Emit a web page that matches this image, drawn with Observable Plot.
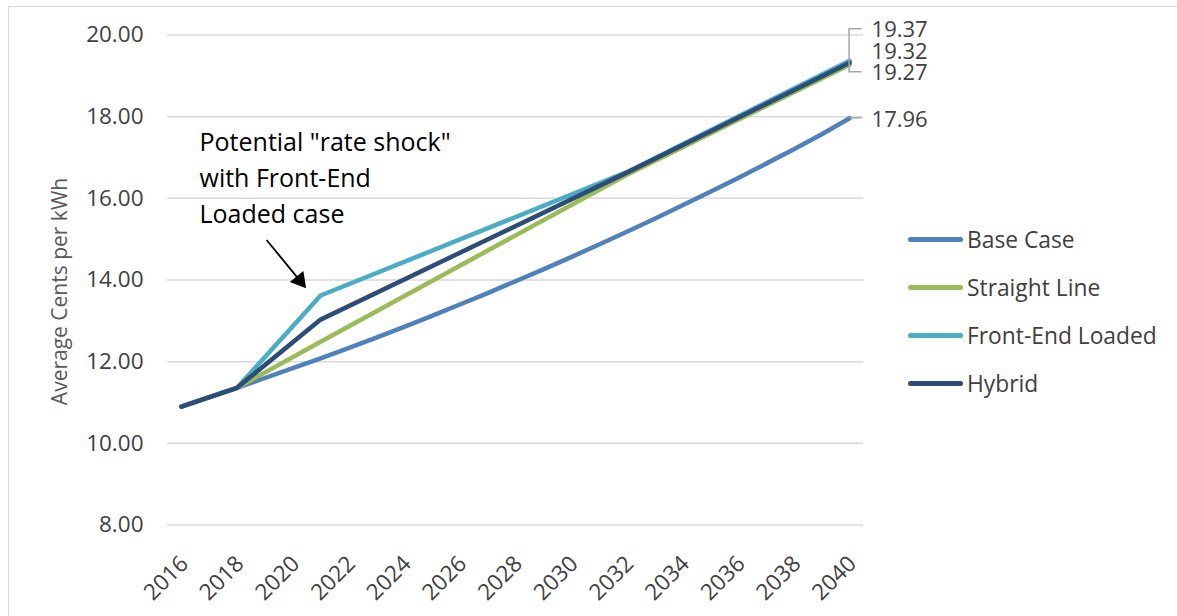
<!DOCTYPE html>
<html>
<head>
<meta charset="utf-8">
<script src="https://cdn.jsdelivr.net/npm/d3@7"></script>
<script src="https://cdn.jsdelivr.net/npm/@observablehq/plot@0.6"></script>
<style>
  html, body { margin: 0; padding: 0; background: #fff; overflow: hidden; }
  #wrap { position: relative; width: 1177px; height: 616px; font-family: "Open Sans", sans-serif; }
  #frame { position: absolute; left: 8px; top: 6px; width: 1300px; height: 800px; border: 1.5px solid #d9d9d9; box-sizing: border-box; pointer-events: none; }
  #legend { position: absolute; left: 908px; top: 216px; }
  .row { display: flex; align-items: center; height: 47.8px; }
  .sw { width: 55px; height: 5px; border-radius: 3px; margin-right: 4px; }
  .lab { font-size: 22.8px; color: #404040; white-space: nowrap; }
</style>
</head>
<body>
<div id="wrap"><div id="frame"></div><div id="legend"></div></div>
<script>
// ---- data ----
const seriesNames = ["Base Case", "Straight Line", "Front-End Loaded", "Hybrid"];
const seriesColors = ["#4f81bd", "#9bbb59", "#4bacc6", "#2c4d75"];

const baseYears = [2016, 2017, 2018, 2019, 2020, 2021, 2022, 2023, 2024, 2025, 2026, 2027, 2028,
                   2029, 2030, 2031, 2032, 2033, 2034, 2035, 2036, 2037, 2038, 2039, 2040];
const baseCase = [10.90, 11.13, 11.36, 11.60, 11.84, 12.08, 12.33, 12.59, 12.85, 13.12, 13.40, 13.68, 13.97,
                  14.26, 14.56, 14.87, 15.18, 15.50, 15.83, 16.16, 16.50, 16.85, 17.20, 17.57, 17.96];

const keyYears = [2016, 2018, 2021, 2032, 2040];
const straightLine   = [10.90, 11.36, 12.49, 16.58, 19.27];
const frontEndLoaded = [10.90, 11.36, 13.62, 16.64, 19.37];
const hybrid         = [10.90, 11.36, 13.03, 16.63, 19.32];

const xTicks = [2016, 2018, 2020, 2022, 2024, 2026, 2028, 2030, 2032, 2034, 2036, 2038, 2040];
const yTicks = [8, 10, 12, 14, 16, 18, 20];
const yTitle = "Average Cents per kWh";

const noteText = "Potential \"rate shock\"\nwith Front-End\nLoaded case";
const notePos = {x: 2016.65, y: 17.78};
const arrowFrom = {x: 2019.06, y: 14.98};
const arrowHead = {x: 2020.25, y: 13.99};

// ---- build table ----
const rows = [];
baseYears.forEach((yr, i) => rows.push({series: "Base Case", year: yr, value: baseCase[i]}));
const scen = {"Straight Line": straightLine, "Front-End Loaded": frontEndLoaded, "Hybrid": hybrid};
for (const name of ["Straight Line", "Front-End Loaded", "Hybrid"]) {
  keyYears.forEach((yr, i) => rows.push({series: name, year: yr, value: scen[name][i]}));
}
const lastYear = 2040;
// end labels; dy = label offset in pixels from the series' last point
const endLabels = [
  {series: "Front-End Loaded", value: frontEndLoaded[frontEndLoaded.length - 1], dy: -30.4},
  {series: "Hybrid", value: hybrid[hybrid.length - 1], dy: -10.5},
  {series: "Straight Line", value: straightLine[straightLine.length - 1], dy: 8.4},
  {series: "Base Case", value: baseCase[baseCase.length - 1], dy: 2}
];

const lineMarks = seriesNames.map((name, i) =>
  Plot.line(rows.filter(d => d.series === name), {
    x: "year", y: "value", stroke: seriesColors[i], strokeWidth: 4.5,
    strokeLinejoin: "round", strokeLinecap: "round"
  })
);
const labelMarks = endLabels.map(l =>
  Plot.text([l], {x: () => lastYear, y: "value", text: d => d.value.toFixed(2),
    dx: 22, dy: l.dy, textAnchor: "start", fill: "#404040", fontSize: 22, lineHeight: 0.9})
);

const plot = Plot.plot({
  width: 1177,
  height: 616,
  marginLeft: 167,
  marginRight: 314,
  marginTop: 34.5,
  marginBottom: 91.5,
  style: {fontFamily: "'Open Sans', sans-serif", fontSize: "22.5px", color: "#404040", background: "transparent", overflow: "visible"},
  x: {type: "linear", domain: [2015.5, 2040.5], ticks: xTicks, tickFormat: d => String(d),
      tickRotate: -45, tickSize: 0, tickPadding: 30, label: null, line: false},
  y: {domain: [8, 20], ticks: yTicks, tickFormat: d => d.toFixed(2), tickSize: 0, tickPadding: 24, label: null, line: false},
  marks: [
    Plot.ruleY(yTicks, {stroke: "#d9d9d9", strokeWidth: 1.5}),
    ...lineMarks,
    ...labelMarks,
    Plot.text([noteText], {x: () => notePos.x, y: () => notePos.y, text: d => d,
      textAnchor: "start", lineAnchor: "top", lineHeight: 1.43, fontSize: 25, fill: "#000"}),
    Plot.link([0], {x1: () => arrowFrom.x, y1: () => arrowFrom.y, x2: () => arrowHead.x, y2: () => arrowHead.y,
      stroke: "#000", strokeWidth: 1.8}),
    Plot.dot([0], {x: () => arrowHead.x, y: () => arrowHead.y, symbol: "triangle", r: 6.5, rotate: 141,
      fill: "#000", stroke: "none"}),
    Plot.text([yTitle], {frameAnchor: "left", text: d => d, rotate: -90, textAnchor: "middle",
      dx: -107, dy: 11.5, fontSize: 21, fill: "#595959"})
  ]
});

document.getElementById("wrap").prepend(plot);

const svg = d3.select(plot);
// nudge rotated x tick labels slightly lower/right, as in the reference
svg.selectAll('g[aria-label="x-axis tick label"], g[aria-label="x-axis"]').each(function() {
  const t = this.getAttribute("transform") || "";
  this.setAttribute("transform", `translate(3,5) ${t}`);
});

// leader lines for the end labels, placed through the plot's own scales
const xs = plot.scale("x"), ys = plot.scale("y");
const px = xs.apply(lastYear);
const yTop = ys.apply(endLabels[0].value) + endLabels[0].dy - 1;
const yBot = ys.apply(endLabels[2].value) + endLabels[2].dy - 1;
const yBase = ys.apply(endLabels[3].value);
const g = svg.append("g").attr("fill", "none").attr("stroke", "#a6a6a6").attr("stroke-width", 1.5);
g.append("path").attr("d", `M${px + 12.5},${yTop}H${px}V${yBot}H${px + 12.5}`);
g.append("path").attr("d", `M${px},${yBase}H${px + 12.5}`);

// legend
const legend = d3.select("#legend");
seriesNames.forEach((name, i) => {
  const r = legend.append("div").attr("class", "row");
  r.append("div").attr("class", "sw").style("background", seriesColors[i]);
  r.append("div").attr("class", "lab").text(name);
});
</script>
</body>
</html>
